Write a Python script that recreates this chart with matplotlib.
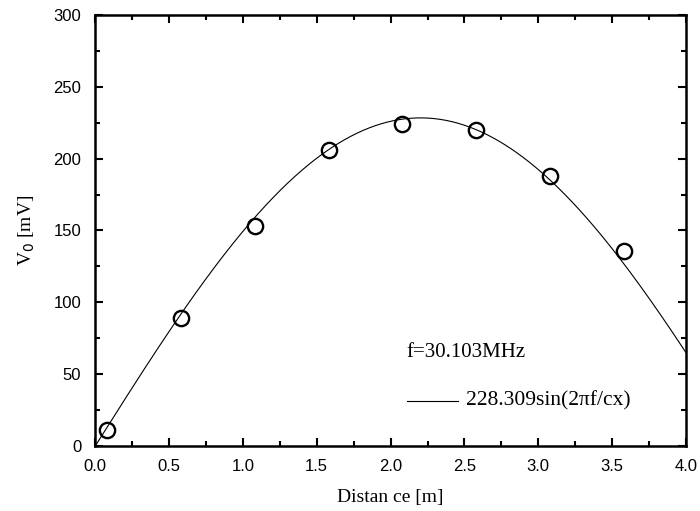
import numpy as np
import matplotlib
matplotlib.use("Agg")
import matplotlib.pyplot as plt
from matplotlib.ticker import MultipleLocator

# Measured data
distance = [0.08, 0.58, 1.08, 1.58, 2.08, 2.58, 3.08, 3.58]
voltage = [11, 89, 153, 206, 224, 220, 188, 136]

# Fit parameters (from legend / curve shape)
amplitude = 228.309
freq = 30.103e6
velocity = 2.652e8

xticks = [0.0, 0.5, 1.0, 1.5, 2.0, 2.5, 3.0, 3.5, 4.0]
xticklabels = ["0.0", "0.5", "1.0", "1.5", "2.0", "2.5", "3.0", "3.5", "4.0"]
yticks = [0, 50, 100, 150, 200, 250, 300]

fig = plt.figure(figsize=(7.0, 5.11), dpi=100)
ax = fig.add_axes([0.136, 0.127, 0.844, 0.844])

xf = np.linspace(0, 4.0, 400)
yf = amplitude * np.sin(2 * np.pi * freq / velocity * xf)
ax.plot(xf, yf, color="black", lw=0.8)
ax.plot(distance, voltage, "o", ms=11, mfc="none", mec="black", mew=1.7)

ax.set_xlim(0, 4.0)
ax.set_ylim(0, 300)
ax.set_xticks(xticks)
ax.set_xticklabels(xticklabels)
ax.set_yticks(yticks)
ax.xaxis.set_minor_locator(MultipleLocator(0.25))
ax.yaxis.set_minor_locator(MultipleLocator(25))
ax.tick_params(which="both", direction="in", top=True, right=True, width=1.5)
ax.tick_params(which="major", length=6)
ax.tick_params(which="minor", length=3.5)
ax.tick_params(axis="x", labelsize=12, pad=9)
ax.tick_params(axis="y", labelsize=12, pad=10)
for lab in ax.get_xticklabels() + ax.get_yticklabels():
    lab.set_fontfamily("Liberation Sans")
for s in ax.spines.values():
    s.set_linewidth(1.8)

serif = "Liberation Serif"
ax.set_xlabel("Distan ce [m]", fontsize=14, fontfamily=serif, labelpad=11)
ax.set_ylabel(r"V$_{\rm 0}$ [mV]", fontsize=14, fontfamily=serif, labelpad=12)

ax.text(2.11, 65.4, "f=30.103MHz", fontsize=15, fontfamily=serif, va="center")
ax.plot([2.11, 2.457], [31.3, 31.3], color="black", lw=0.8)
ax.text(2.51, 31.3, "228.309sin(2\u03c0f/cx)", fontsize=15.5, fontfamily=serif, va="center")

fig.savefig("out.png", dpi=100)
